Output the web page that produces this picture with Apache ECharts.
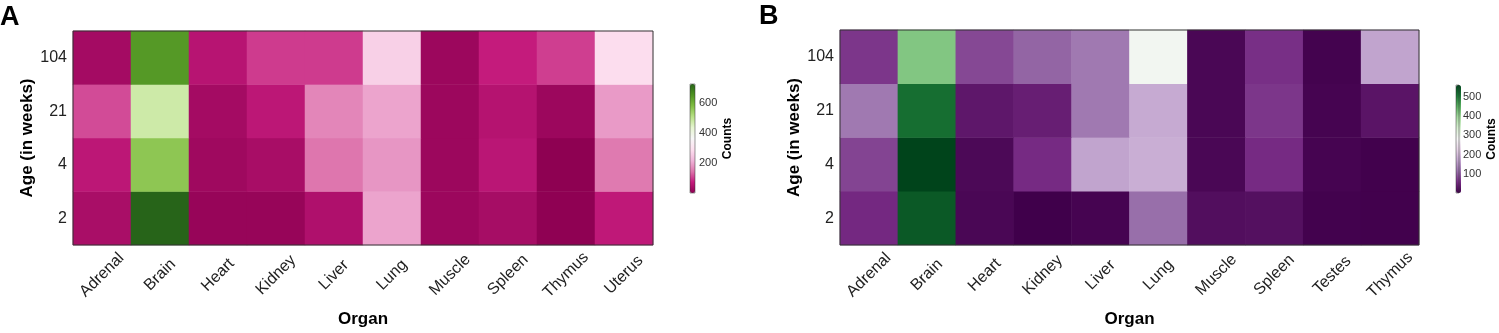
<!DOCTYPE html>
<html>
<head>
<meta charset="utf-8">
<title>Counts by organ and age</title>
<script src="https://cdn.jsdelivr.net/npm/echarts@6/dist/echarts.min.js"></script>
<style>
  html, body { margin: 0; padding: 0; background: #fff; }
  #main { width: 1499px; height: 333px; }
</style>
</head>
<body>
<div id="main"></div>
<script>
// categories
const organsA = ['Adrenal', 'Brain', 'Heart', 'Kidney', 'Liver', 'Lung', 'Muscle', 'Spleen', 'Thymus', 'Uterus']
const organsB = ['Adrenal', 'Brain', 'Heart', 'Kidney', 'Liver', 'Lung', 'Muscle', 'Spleen', 'Testes', 'Thymus']
const ages = ['2', '4', '21', '104'] // bottom -> top

// counts, one array per age (same order as ages)
const countsA_2 = [39, 725, 15, 15, 46, 199, 21, 35, 4, 67]
const countsA_4 = [64, 562, 25, 37, 147, 183, 21, 61, 3, 151]
const countsA_21 = [113, 475, 32, 64, 165, 199, 21, 54, 21, 188]
const countsA_104 = [32, 641, 57, 100, 100, 264, 21, 74, 103, 287]

const countsB_2 = [55, 539, 11, 1, 7, 112, 20, 22, 4, 3]
const countsB_4 = [78, 562, 13, 57, 168, 180, 11, 57, 7, 3]
const countsB_21 = [123, 517, 32, 41, 123, 175, 11, 67, 7, 28]
const countsB_104 = [67, 420, 81, 104, 123, 291, 11, 61, 5, 168]

// colorbar tick labels
const barTicksA = [200, 400, 600]
const barTicksB = [100, 200, 300, 400, 500]

// matplotlib PiYG / PRGn
const piyg = ['#8e0152', '#c51b7d', '#de77ae', '#f1b6da', '#fde0ef', '#f7f7f7', '#e6f5d0', '#b8e186', '#7fbc41', '#4d9221', '#276419']
const prgn = ['#40004b', '#762a83', '#9970ab', '#c2a5cf', '#e7d4e8', '#f7f7f7', '#d9f0d3', '#a6dba0', '#5aae61', '#1b7837', '#00441b']

function toCells(rows) {
  let cells = []
  rows.forEach((row, yi) => {
    row.forEach((v, xi) => {
      cells.push([xi, yi, v])
    })
  })
  return cells
}

const rowsA = [countsA_2, countsA_4, countsA_21, countsA_104]
const rowsB = [countsB_2, countsB_4, countsB_21, countsB_104]
const minA = Math.min(...rowsA.flat()), maxA = Math.max(...rowsA.flat())
const minB = Math.min(...rowsB.flat()), maxB = Math.max(...rowsB.flat())

const font = 'Liberation Sans, Arial, sans-serif'
const ink = '#222'

function heatX(gridIndex, organs) {
  return {
    type: 'category',
    gridIndex: gridIndex,
    data: organs,
    name: 'Organ',
    nameLocation: 'middle',
    nameGap: 66,
    nameTextStyle: { fontSize: 17, fontWeight: 'bold', color: '#000' },
    axisLine: { show: false },
    axisTick: { alignWithLabel: true, length: 4, lineStyle: { color: '#333' } },
    axisLabel: { rotate: 45, fontSize: 16, color: ink, margin: 30, align: 'center', verticalAlign: 'middle' },
    splitLine: { show: false }
  }
}

function heatY(gridIndex) {
  return {
    type: 'category',
    gridIndex: gridIndex,
    data: ages,
    name: 'Age (in weeks)',
    nameLocation: 'middle',
    nameGap: 37,
    nameRotate: 90,
    nameTextStyle: { fontSize: 17, fontWeight: 'bold', color: '#000' },
    axisLine: { show: false },
    axisTick: { alignWithLabel: true, length: 4, lineStyle: { color: '#333' } },
    axisLabel: { fontSize: 16, color: ink, margin: 6 },
    splitLine: { show: false }
  }
}

function barY(gridIndex, min, max, ticks) {
  return {
    type: 'value',
    gridIndex: gridIndex,
    position: 'right',
    min: min,
    max: max,
    name: 'Counts',
    nameLocation: 'middle',
    nameRotate: 90,
    nameGap: 27,
    nameTextStyle: { fontSize: 12, fontWeight: 'bold', color: '#000' },
    axisLine: { show: false },
    axisTick: { show: true, customValues: ticks, length: 3, lineStyle: { color: '#333' } },
    axisLabel: { customValues: ticks, fontSize: 11, color: '#333', margin: 4 },
    splitLine: { show: false }
  }
}

function barVM(seriesIndex, min, max, colors, left, top, h) {
  return {
    type: 'continuous',
    seriesIndex: seriesIndex,
    min: min,
    max: max,
    inRange: { color: colors },
    calculable: false,
    hoverLink: false,
    text: ['', ''],
    showLabel: false,
    orient: 'vertical',
    left: left,
    top: top,
    itemWidth: 5,
    itemHeight: h,
    padding: 0
  }
}

let chart = echarts.init(document.getElementById('main'), null, { renderer: 'canvas' })
let option = {
  animation: false,
  textStyle: { fontFamily: font },
  title: [
    { text: 'A', left: 0, top: 4, padding: 0, textStyle: { fontSize: 27, fontWeight: 'bold', color: '#000', fontFamily: font } },
    { text: 'B', left: 759, top: 3, padding: 0, textStyle: { fontSize: 27, fontWeight: 'bold', color: '#000', fontFamily: font } }
  ],
  grid: [
    { left: 73, top: 31, width: 580, height: 217, show: true, borderColor: '#333', borderWidth: 1, z: 5 },
    { left: 840, top: 30, width: 579, height: 218, show: true, borderColor: '#333', borderWidth: 1, z: 5 },
    { left: 690, top: 84, width: 5, height: 109, show: true, borderColor: '#333', borderWidth: 0.5, z: 5 },
    { left: 1456, top: 85, width: 5, height: 108, show: true, borderColor: '#333', borderWidth: 0.5, z: 5 }
  ],
  xAxis: [
    heatX(0, organsA),
    heatX(1, organsB),
    { type: 'value', gridIndex: 2, show: false, min: 0, max: 1 },
    { type: 'value', gridIndex: 3, show: false, min: 0, max: 1 }
  ],
  yAxis: [
    heatY(0),
    heatY(1),
    barY(2, minA, maxA, barTicksA),
    barY(3, minB, maxB, barTicksB)
  ],
  visualMap: [
    barVM(0, minA, maxA, piyg, 690, 84, 109),
    barVM(1, minB, maxB, prgn, 1456, 85, 108)
  ],
  series: [
    {
      type: 'heatmap',
      xAxisIndex: 0,
      yAxisIndex: 0,
      data: toCells(rowsA),
      emphasis: { disabled: true }
    },
    {
      type: 'heatmap',
      xAxisIndex: 1,
      yAxisIndex: 1,
      data: toCells(rowsB),
      emphasis: { disabled: true }
    }
  ]
}
chart.setOption(option)
</script>
</body>
</html>
